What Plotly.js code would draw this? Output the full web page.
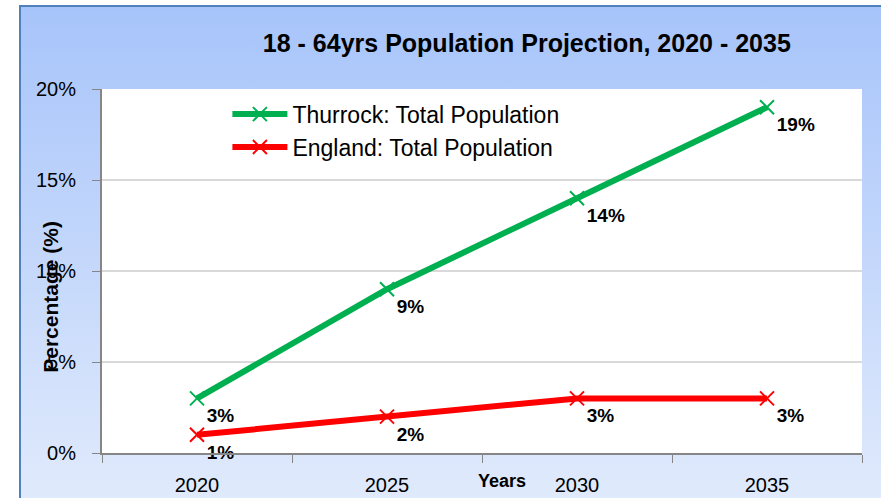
<!DOCTYPE html>
<html>
<head>
<meta charset="utf-8">
<script src="https://cdn.plot.ly/plotly-3.0.1.min.js"></script>
<style>
  body { margin: 0; background: #ffffff; }
  #frame {
    position: absolute; left: 19px; top: 5px; width: 862px; height: 493px;
    box-sizing: border-box;
    border-top: 2px solid #4f81bd; border-left: 2px solid #4f81bd;
    background: linear-gradient(#a7c4fa, #e0eafc);
  }
  #chart { position: absolute; left: 0; top: 0; width: 881px; height: 498px; }
</style>
</head>
<body>
<div id="frame"></div>
<div id="chart"></div>
<script>
// 18-64 population projection, % change from baseline
var years = ["2020", "2025", "2030", "2035"];
var thurrock = [3, 9, 14, 19];
var england = [1, 2, 3, 3];
var thurrockLabels = ["3%", "9%", "14%", "19%"];
var englandLabels = ["1%", "2%", "3%", "3%"];

var labelFont = {family: "Liberation Sans", size: 19, color: "#000000", weight: "bold"};

var trace1 = {
  x: years,
  y: thurrock,
  name: "Thurrock: Total Population",
  type: "scatter",
  mode: "lines+markers+text",
  line: {color: "#00b050", width: 6},
  marker: {symbol: "x-thin-open", size: 14, line: {color: "#00b050", width: 2}},
  text: thurrockLabels,
  textposition: "bottom right",
  textfont: labelFont,
  cliponaxis: false
};

var trace2 = {
  x: years,
  y: england,
  name: "England: Total Population",
  type: "scatter",
  mode: "lines+markers+text",
  line: {color: "#ff0000", width: 6},
  marker: {symbol: "x-thin-open", size: 14, line: {color: "#ff0000", width: 2}},
  text: englandLabels,
  textposition: "bottom right",
  textfont: labelFont,
  cliponaxis: false
};

var layout = {
  width: 881,
  height: 498,
  margin: {l: 102, r: 19, t: 89, b: 45},
  paper_bgcolor: "rgba(0,0,0,0)",
  plot_bgcolor: "#ffffff",
  font: {family: "Liberation Sans", color: "#000000"},
  title: {
    text: "18 - 64yrs Population Projection, 2020 - 2035",
    font: {family: "Liberation Sans", size: 25, weight: "bold", color: "#000000"},
    x: 0.598, xanchor: "center",
    y: 0.913, yanchor: "middle"
  },
  showlegend: true,
  legend: {
    x: 0.165, y: 0.99, xanchor: "left", yanchor: "top",
    bgcolor: "rgba(0,0,0,0)",
    font: {family: "Liberation Sans", size: 23, color: "#000000"},
    itemwidth: 55,
    tracegroupgap: 0
  },
  xaxis: {
    type: "category",
    range: [-0.5, 3.5],
    tickson: "boundaries",
    ticks: "outside",
    ticklen: 8,
    tickcolor: "#868686",
    showgrid: false,
    showline: true,
    linecolor: "#868686",
    linewidth: 2,
    ticklabelstandoff: 13,
    tickfont: {family: "Liberation Sans", size: 20, color: "#000000"},
    fixedrange: true
  },
  yaxis: {
    range: [0, 20],
    tickvals: [0, 5, 10, 15, 20],
    ticktext: ["0%", "5%", "10%", "15%", "20%"],
    ticks: "outside",
    ticklen: 8,
    tickcolor: "#868686",
    showgrid: true,
    gridcolor: "#d9d9d9",
    gridwidth: 2,
    zeroline: false,
    showline: true,
    linecolor: "#868686",
    linewidth: 2,
    ticklabelstandoff: 12,
    tickfont: {family: "Liberation Sans", size: 20, color: "#000000"},
    fixedrange: true
  },
  annotations: [
    {
      text: "Years", xref: "paper", yref: "paper",
      x: 0.526, y: -0.077, xanchor: "center", yanchor: "middle",
      showarrow: false,
      font: {family: "Liberation Sans", size: 18, weight: "bold", color: "#000000"}
    },
    {
      text: "Percentage (%)", xref: "paper", yref: "paper",
      x: -0.068, y: 0.43, xanchor: "center", yanchor: "middle",
      textangle: -90, showarrow: false,
      font: {family: "Liberation Sans", size: 21, weight: "bold", color: "#000000"}
    }
  ]
};

Plotly.newPlot("chart", [trace1, trace2], layout, {displayModeBar: false, staticPlot: true});
</script>
</body>
</html>
